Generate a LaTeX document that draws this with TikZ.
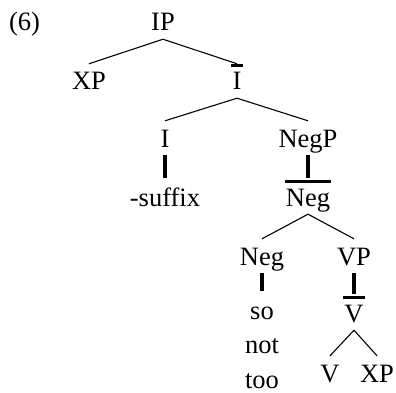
\documentclass[tikz,border=0pt]{standalone}
\usepackage{fontspec}
\setmainfont{Liberation Serif}
\usepackage{tikz}

\begin{document}
\begin{tikzpicture}[
  x=1pt, y=-1pt,
  lbl/.style={anchor=base, font=\fontsize{26.5}{32}\selectfont, text height=18pt, text depth=0pt, inner xsep=1pt, inner ysep=8pt},
  branch/.style={line width=1.1pt},
  unary/.style={line width=3.4pt, shorten >=2pt},
  barline/.style={line width=3pt}
]
  \useasboundingbox (0,0) rectangle (396,393);

  % example number
  \node[lbl] (ex) at (24.5,31) {(6)};

  % tree nodes
  \node[lbl] (ip)     at (163,31)  {IP};
  \node[lbl] (xp)     at (89,90)   {XP};
  \node[lbl] (ibar)   at (237,90)  {I};
  \node[lbl] (i)      at (165,147) {I};
  \node[lbl] (negp)   at (308,147) {NegP};
  \node[lbl] (suffix) at (165,206) {-suffix};
  \node[lbl] (negbar) at (308,206) {Neg};
  \node[lbl] (neg)    at (262,265) {Neg};
  \node[lbl] (vp)     at (354,265) {VP};
  \node[lbl] (so)     at (262,319) {so};
  \node[lbl] (nott)   at (262,353) {not};
  \node[lbl] (too)    at (262,388) {too};
  \node[lbl] (vbar)   at (354,322) {V};
  \node[lbl] (v)      at (330,382) {V};
  \node[lbl] (xpv)    at (377,382) {XP};

  % bars over the intermediate projections
  \foreach \n in {ibar, negbar, vbar}
    \draw[barline] ([yshift=-2pt]\n.north west) -- ([yshift=-2pt]\n.north east);

  % branching
  \foreach \a/\b in {ip/xp, ip/ibar, ibar/i, ibar/negp, negbar/neg, negbar/vp, vbar/v, vbar/xpv}
    \draw[branch] (\a.south) -- (\b.north);

  % non-branching
  \foreach \a/\b in {i/suffix, negp/negbar, neg/so, vp/vbar}
    \draw[unary] (\a.south) -- (\b.north);
\end{tikzpicture}
\end{document}
